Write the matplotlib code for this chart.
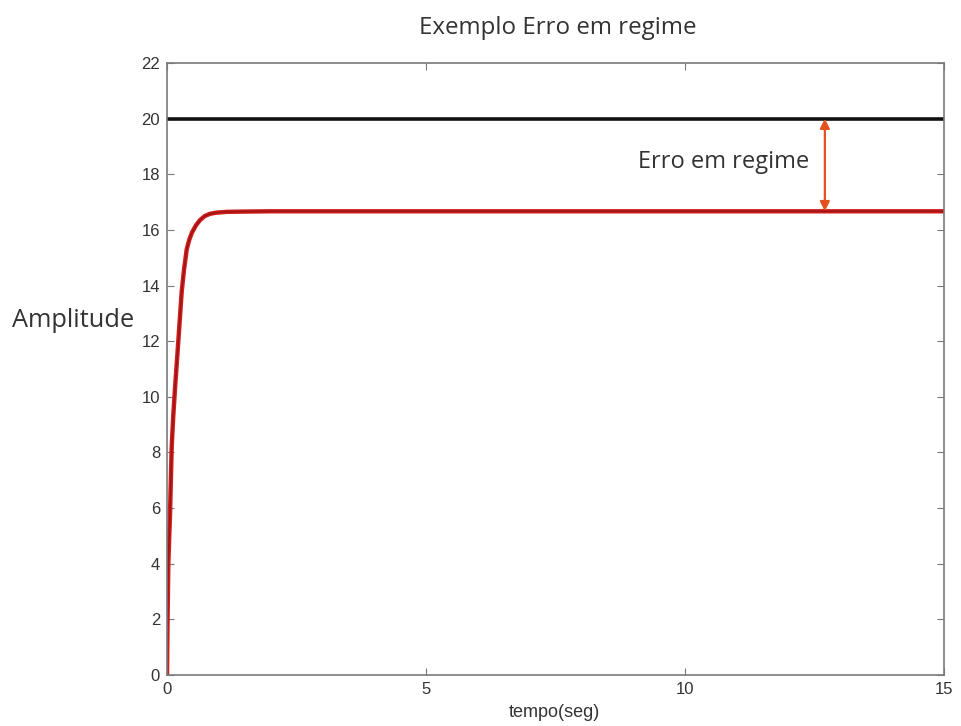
import numpy as np
from matplotlib import pyplot as plt

# Step response (read point by point) and reference level
t = [0, 0.01, 0.025, 0.058, 0.09, 0.12, 0.154, 0.218, 0.284, 0.33, 0.38, 0.43,
     0.48, 0.56, 0.64, 0.73, 0.83, 0.95, 1.15, 1.5, 2.0, 15.0]
resp = [0, 2.0, 4.0, 5.8, 8.2, 9.3, 10.3, 12.0, 13.8, 14.6, 15.3, 15.65,
        15.9, 16.17, 16.36, 16.5, 16.58, 16.62, 16.65, 16.66, 16.67, 16.67]
setpoint = 20
steady = 16.67
arrow_t = 12.7

xticks = [0, 5, 10, 15]
yticks = list(range(0, 23, 2))

fig = plt.figure(figsize=(9.61, 7.26), dpi=100)
ax = fig.add_axes([0.1738, 0.0702, 0.8085, 0.843])

ax.axhline(setpoint, color='#111111', lw=2.6)
ax.plot(t, resp, color='#d21f1f', lw=3.2, solid_capstyle='butt')
ax.plot(t, resp, color='#9e1414', lw=1.2)

ax.annotate('', xy=(arrow_t, setpoint), xytext=(arrow_t, steady),
            arrowprops=dict(arrowstyle='<|-|>', color='#e5501f', lw=1.6,
                            mutation_scale=14, shrinkA=0, shrinkB=0))
ax.text(arrow_t - 0.3, 18.45, 'Erro em regime', ha='right', va='center',
        fontsize=17, family='Open Sans', color='#333333')

ax.set_xlim(0, 15)
ax.set_ylim(0, 22)
ax.set_xticks(xticks)
ax.set_yticks(yticks)
ax.tick_params(direction='in', top=True, right=True, length=5, color='#777777',
               labelsize=12, labelcolor='#333333', pad=5)
for lab in ax.get_xticklabels() + ax.get_yticklabels():
    lab.set_family('Liberation Sans')
for s in ax.spines.values():
    s.set_color('#7a7a7a')
    s.set_linewidth(1.2)

fig.text(0.5806, 0.962, 'Exemplo Erro em regime', ha='center', va='center',
         fontsize=17.4, family='Open Sans', color='#333333')
fig.text(0.0125, 0.559, 'Amplitude', ha='left', va='center',
         fontsize=18.3, family='Open Sans', color='#333333')
fig.text(0.5765, 0.018, 'tempo(seg)', ha='center', va='center',
         fontsize=13, family='Liberation Sans', color='#333333')

plt.savefig('out.png', dpi=100)
